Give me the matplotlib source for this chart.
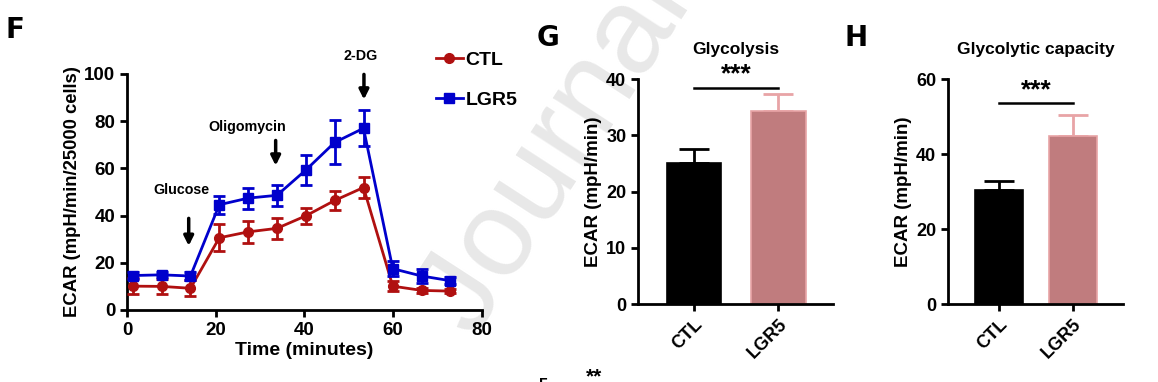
import numpy as np
import matplotlib
matplotlib.use('Agg')
import matplotlib.pyplot as plt

plt.rcParams['font.family'] = ['Liberation Sans', 'DejaVu Sans']
plt.rcParams['font.weight'] = 'bold'
plt.rcParams['axes.labelweight'] = 'bold'
plt.rcParams['axes.linewidth'] = 2

# ---- panel F data (Seahorse glycolysis stress test)
time_min = [1.3, 7.8, 14.3, 20.8, 27.3, 33.8, 40.3, 46.8, 53.3, 59.9, 66.4, 72.9]
ctl_mean = [10.1, 10.0, 9.2, 30.6, 33.1, 34.6, 39.9, 46.4, 51.9, 10.1, 8.3, 8.0]
ctl_err = [3.5, 3.2, 3.3, 5.8, 4.6, 4.4, 3.5, 3.9, 4.4, 2.0, 1.0, 0.8]
lgr5_mean = [14.6, 14.9, 14.4, 44.6, 47.4, 48.6, 59.3, 71.0, 77.0, 17.5, 14.4, 12.4]
lgr5_err = [1.5, 1.0, 1.5, 3.9, 4.4, 4.5, 6.3, 9.3, 7.6, 3.2, 3.0, 1.5]

# injections: label, time, arrow top, arrow bottom, label y, label x
inj_label = ['Glucose', 'Oligomycin', '2-DG']
inj_time = [13.9, 33.5, 53.4]
inj_top = [40, 73, 101]
inj_bot = [26, 60, 88]
inj_text_y = [51, 77.5, 107.5]
inj_text_x = [12.3, 27.2, 52.6]

# ---- panel G / H data
groups = ['CTL', 'LGR5']
glyc_mean = [25.0, 34.3]
glyc_err = [2.6, 3.0]
cap_mean = [30.3, 44.9]
cap_err = [2.4, 5.4]

red = '#b01010'
blue = '#0000cc'
bar_cols = ['black', '#c07c7e']
bar_edges = ['black', '#e8a4a6']

fig = plt.figure(figsize=(11.58, 3.82), dpi=100)

# watermark, behind everything
fig.text(0.345, 0.075, 'Journal Pre-proof', rotation=57, fontsize=88,
         color='#e8e8e8', fontweight='normal', ha='left', va='bottom',
         zorder=-5)

# ---------------- F
axF = fig.add_axes([0.1097, 0.1885, 0.3065, 0.6178])
axF.patch.set_alpha(0)
axF.errorbar(time_min, ctl_mean, yerr=ctl_err, fmt='none', ecolor=red,
             elinewidth=2, capsize=4.5, capthick=2, zorder=3)
axF.plot(time_min, ctl_mean, color=red, marker='o', ms=7, lw=2, label='CTL',
         zorder=3)
axF.errorbar(time_min, lgr5_mean, yerr=lgr5_err, fmt='none', ecolor=blue,
             elinewidth=2, capsize=4.5, capthick=2, zorder=4)
axF.plot(time_min, lgr5_mean, color=blue, marker='s', ms=7, lw=2, label='LGR5',
         zorder=4)
axF.set_xlim(0, 80)
axF.set_ylim(0, 100)
axF.set_xticks([0, 20, 40, 60, 80])
axF.set_yticks([0, 20, 40, 60, 80, 100])
axF.spines['top'].set_visible(False)
axF.spines['right'].set_visible(False)
axF.tick_params(width=2, length=5, labelsize=13.5)
axF.set_xlabel('Time (minutes)', fontsize=14, labelpad=2)
axF.set_ylabel('ECAR (mpH/min/25000 cells)', fontsize=13.3, labelpad=2)
for lab, t, y1, y0, ty, tx in zip(inj_label, inj_time, inj_top, inj_bot,
                                   inj_text_y, inj_text_x):
    axF.annotate('', xy=(t, y0), xytext=(t, y1),
                 arrowprops=dict(arrowstyle='-|>', color='black', lw=2.5,
                                 mutation_scale=14), annotation_clip=False)
    axF.text(tx, ty, lab, ha='center', va='center', fontsize=10.3,
             clip_on=False)
leg = axF.legend(loc='upper left', bbox_to_anchor=(0.82, 1.17), frameon=False,
                 fontsize=14, handlelength=1.4, handletextpad=0.15,
                 labelspacing=1.15)
fig.text(0.005, 0.90, 'F', fontsize=20, fontweight='bold', family='DejaVu Sans')


def bar_panel(rect, mean, err, ymax, yticks, title, sig_y, star_y, xlim):
    ax = fig.add_axes(rect)
    ax.patch.set_alpha(0)
    x = np.arange(len(groups))
    ax.bar(x, mean, width=0.65, color=bar_cols, edgecolor=bar_edges, lw=1.2,
           zorder=2)
    for xi, m, e, c in zip(x, mean, err, bar_edges):
        ax.errorbar(xi, m, yerr=[[0], [e]], color=c, elinewidth=2,
                    capsize=11, capthick=2, zorder=1)
    ax.set_xlim(*xlim)
    ax.set_ylim(0, ymax)
    ax.set_yticks(yticks)
    ax.set_xticks(x)
    ax.set_xticklabels(groups, rotation=45, ha='right', rotation_mode='anchor')
    ax.spines['top'].set_visible(False)
    ax.spines['right'].set_visible(False)
    ax.tick_params(width=2, length=5, labelsize=13)
    ax.set_ylabel('ECAR (mpH/min)', fontsize=13.5, labelpad=3)
    ax.plot([0, 1], [sig_y, sig_y], color='black', lw=1.8, clip_on=False)
    ax.text(0.5, star_y, '***', ha='center', va='center', fontsize=19,
            clip_on=False)
    ax.set_title(title, fontsize=12.5, fontweight='bold', pad=18)
    return ax


bar_panel([0.551, 0.204, 0.1683, 0.589], glyc_mean, glyc_err, 40,
          [0, 10, 20, 30, 40], 'Glycolysis', 38.5, 40.8, (-0.667, 1.65))
fig.text(0.463, 0.88, 'G', fontsize=20, fontweight='bold', family='DejaVu Sans')

bar_panel([0.8187, 0.204, 0.1511, 0.589], cap_mean, cap_err, 60,
          [0, 20, 40, 60], 'Glycolytic capacity', 53.7, 57.0, (-0.69, 1.68))
fig.text(0.729, 0.88, 'H', fontsize=20, fontweight='bold', family='DejaVu Sans')

# fragment of the next panel row at the bottom edge
fig.text(0.513, -0.012, '**', fontsize=15, ha='center', va='bottom')
fig.text(0.469, -0.03, '5', fontsize=12, ha='center', va='bottom')

fig.savefig('out.png', dpi=100)
